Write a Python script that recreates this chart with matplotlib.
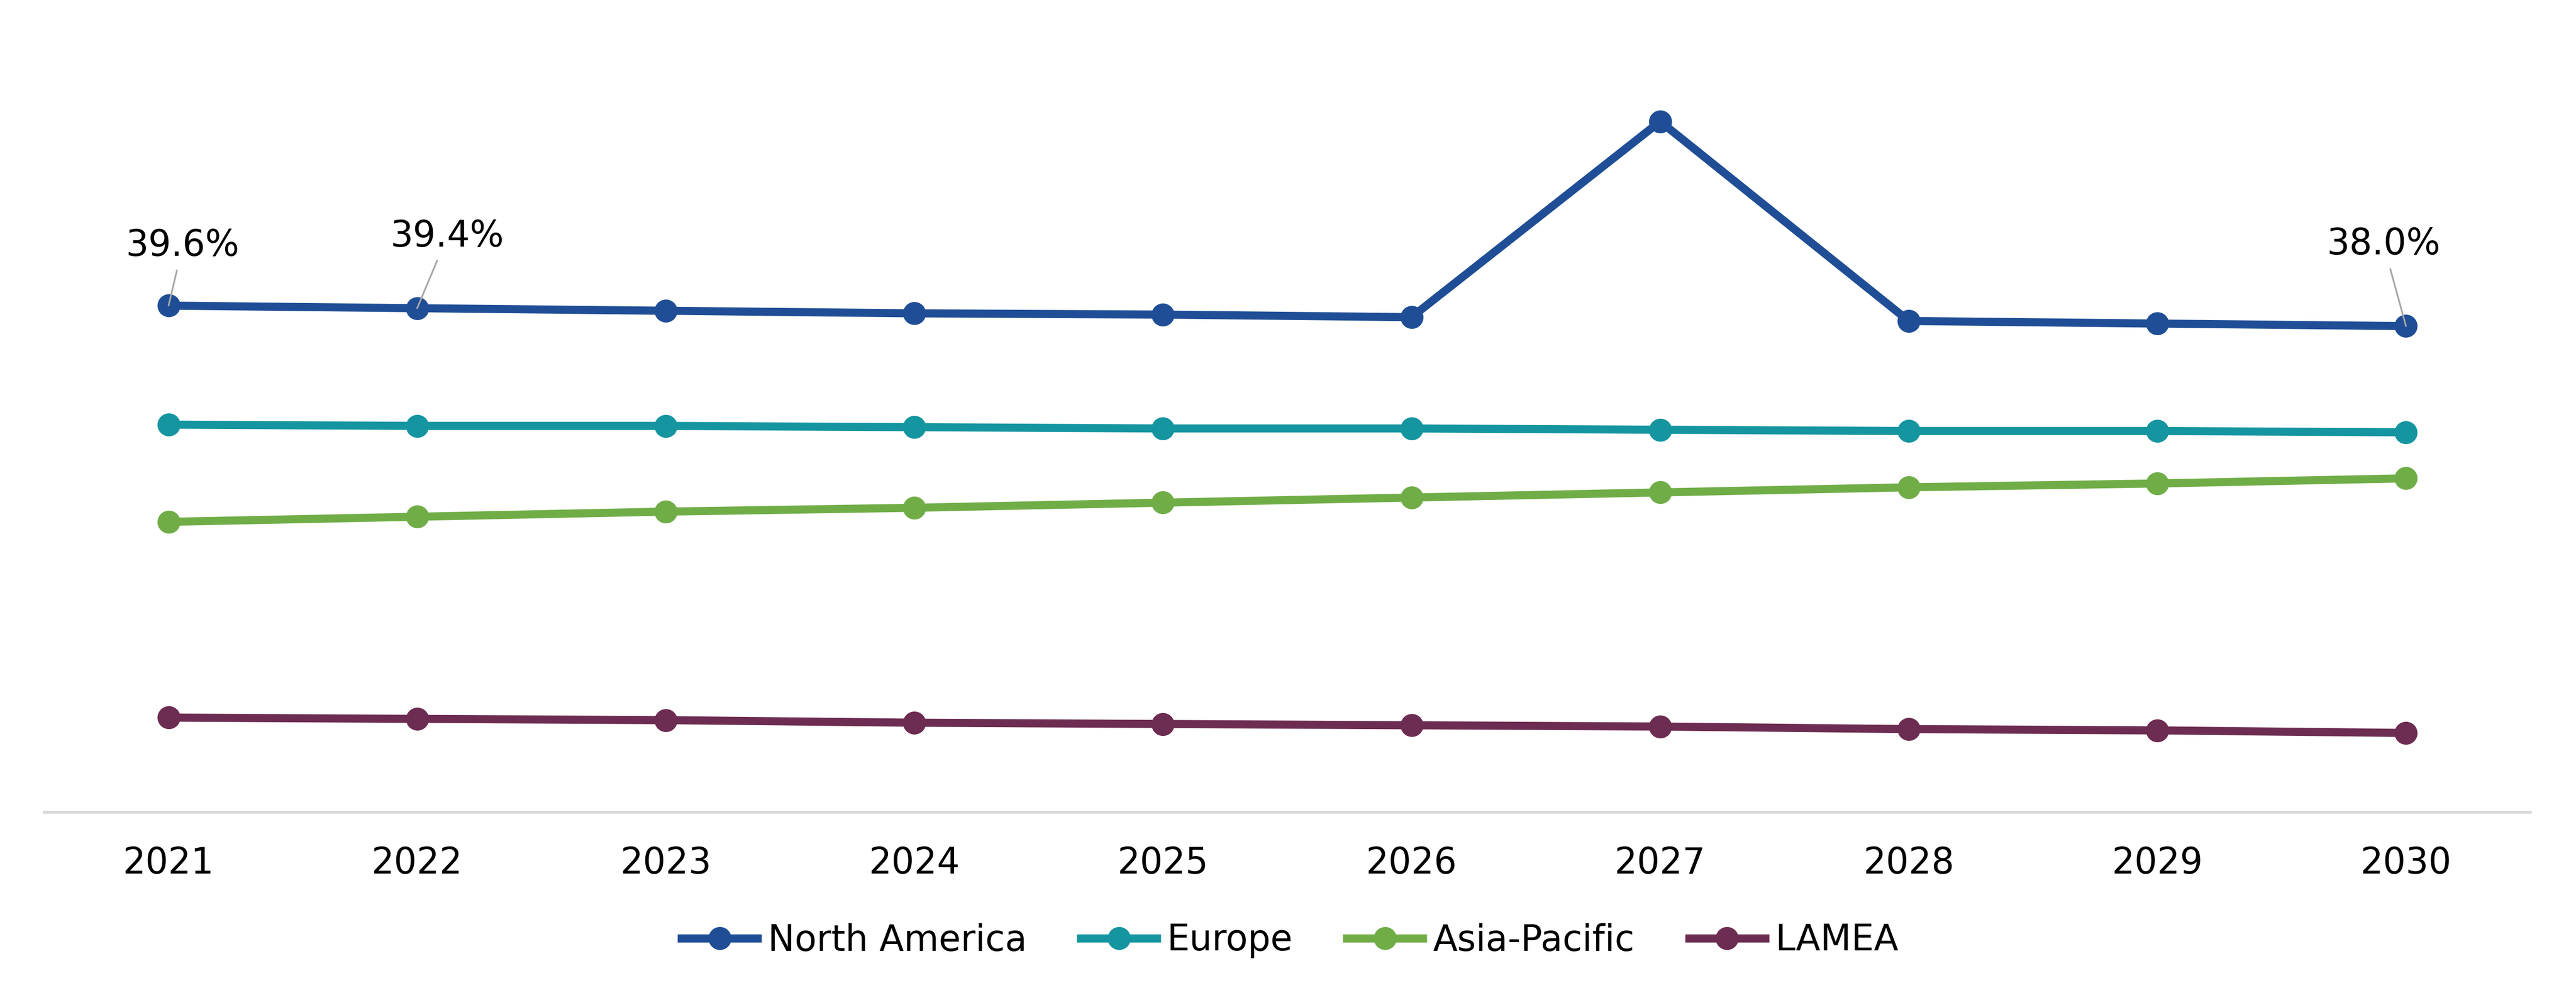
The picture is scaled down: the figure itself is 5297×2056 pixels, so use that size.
import matplotlib
matplotlib.use("Agg")
import matplotlib.pyplot as plt

years = ["2021", "2022", "2023", "2024", "2025", "2026", "2027", "2028", "2029", "2030"]
north_america = [39.6, 39.4, 39.2, 39.0, 38.9, 38.7, 54.0, 38.4, 38.2, 38.0]
europe = [30.3, 30.2, 30.2, 30.1, 30.0, 30.0, 29.9, 29.8, 29.8, 29.7]
asia_pacific = [22.7, 23.1, 23.5, 23.8, 24.2, 24.6, 25.0, 25.4, 25.7, 26.1]
lamea = [7.4, 7.3, 7.2, 7.0, 6.9, 6.8, 6.7, 6.5, 6.4, 6.2]

series = [
    ("North America", north_america, "#1F4E96"),
    ("Europe", europe, "#1495A0"),
    ("Asia-Pacific", asia_pacific, "#70AD47"),
    ("LAMEA", lamea, "#6D2C51"),
]

labels = [(0, "39.6%", 29, 102), (1, "39.4%", 62, 127), (9, "38.0%", -46, 147)]

plt.rcParams['font.family'] = ['DejaVu Sans']
DPI = 100
fig = plt.figure(figsize=(5297 / DPI, 2056 / DPI), dpi=DPI)
ax = fig.add_axes([0.01718, 0.18774, 0.96507, 0.7676])

x = list(range(len(years)))
for name, vals, col in series:
    ax.plot(x, vals, color=col, lw=12, marker='o', markersize=33,
            label=name, solid_capstyle='butt', zorder=3)

for i, txt, dx, dy in labels:
    ax.annotate(txt, xy=(i, north_america[i]), xytext=(dx, dy),
                textcoords='offset pixels', ha='center', va='baseline',
                fontsize=53, color='black',
                arrowprops=dict(arrowstyle='-', color='#A6A6A6', lw=2.5,
                                shrinkA=8, shrinkB=0), zorder=5)

ax.set_xlim(-0.5, len(years) - 0.5)
ax.set_ylim(0, 60)
ax.set_xticks(x)
ax.set_xticklabels(years, fontsize=53)
ax.set_yticks([])
ax.tick_params(axis='x', length=0, pad=50)
for s in ['top', 'left', 'right']:
    ax.spines[s].set_visible(False)
ax.spines['bottom'].set_color('#D9D9D9')
ax.spines['bottom'].set_linewidth(4.3)

leg = fig.legend(loc='center', bbox_to_anchor=(0.5, 1 - 1934 / 2056), ncol=4,
                 frameon=False, fontsize=53, handlelength=2.35,
                 handletextpad=0.17, columnspacing=1.4)

fig.savefig("out.png", dpi=DPI, facecolor='white')
